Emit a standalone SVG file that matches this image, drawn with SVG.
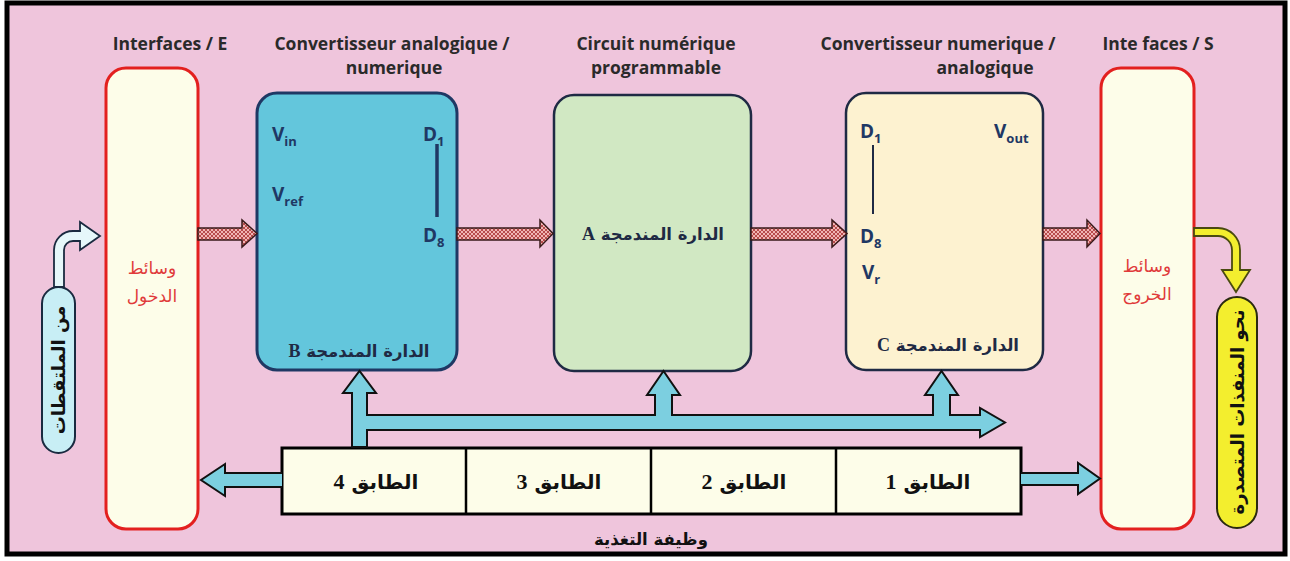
<svg xmlns="http://www.w3.org/2000/svg" width="1290" height="561" viewBox="0 0 1290 561">
<defs>
<pattern id="hatch" width="4" height="4" patternUnits="userSpaceOnUse">
<rect width="4" height="4" fill="#f0b4b4"/>
<path d="M0,4 L4,0 M0,0 L4,4" stroke="#a83030" stroke-width="0.8"/>
</pattern>
<style>
.title{font-family:"Open Sans","Liberation Sans",sans-serif;font-weight:bold;font-size:17.5px;fill:#2a2a2a;text-anchor:middle}
.pin{font-family:"Open Sans","Liberation Sans",sans-serif;font-weight:bold;font-size:19px;fill:#1f3864}
.sub{font-size:13px}
.ar{font-family:"DejaVu Sans",sans-serif;font-weight:bold;text-anchor:middle;direction:rtl;unicode-bidi:embed}
.chip{font-size:16.5px;fill:#1f2a44}
.red{font-size:17px;fill:#e03a3a;font-weight:normal}
.stage{font-size:20px;fill:#111}
.pill{font-size:18px;fill:#111}
.iface{fill:#fdfde9;stroke:#e3201f;stroke-width:3}
.hat{fill:url(#hatch);stroke:#3a1a1a;stroke-width:1.5}
.blue{fill:#7ccfe0;stroke:#111;stroke-width:2;stroke-linejoin:miter}
</style>
</defs>
<rect x="0" y="0" width="1290" height="561" fill="#ffffff"/>
<rect x="7" y="3" width="1278" height="551" fill="#efc5dc" stroke="#000" stroke-width="5"/>

<g id="titles">
<text class="title" x="170" y="50">Interfaces / E</text>
<text class="title" x="392" y="50">Convertisseur analogique /</text>
<text class="title" x="394" y="74">numerique</text>
<text class="title" x="656" y="50">Circuit numérique</text>
<text class="title" x="656" y="74">programmable</text>
<text class="title" x="938" y="50">Convertisseur numerique /</text>
<text class="title" x="985" y="74">analogique</text>
<text class="title" x="1158" y="50">Inte faces / S</text>
</g>

<g id="node-input">
<rect class="iface" x="106" y="68" width="92" height="461" rx="20"/>
<text class="ar red" x="152" y="274">وسائط</text>
<text class="ar red" x="152" y="302">الدخول</text>
</g>

<g id="node-output">
<rect class="iface" x="1101" y="68" width="93" height="461" rx="20"/>
<text class="ar red" x="1147" y="272">وسائط</text>
<text class="ar red" x="1147" y="300">الخروج</text>
</g>

<g id="node-B">
<rect x="257" y="93" width="200" height="277" rx="20" fill="#63c6dc" stroke="#1f3864" stroke-width="3"/>
<text class="pin" x="272" y="141">V<tspan class="sub" dy="5">in</tspan></text>
<text class="pin" x="272" y="201">V<tspan class="sub" dy="5">ref</tspan></text>
<text class="pin" x="423" y="141">D<tspan class="sub" dy="5">1</tspan></text>
<text class="pin" x="423" y="242">D<tspan class="sub" dy="5">8</tspan></text>
<line x1="437" y1="144" x2="437" y2="217" stroke="#1f3864" stroke-width="3.5"/>
<text class="ar chip" x="359" y="357">الدارة المندمجة <tspan font-family="Liberation Serif,serif" font-size="18">B</tspan></text>
</g>

<g id="node-A">
<rect x="554" y="95" width="197" height="276" rx="20" fill="#d1e8c3" stroke="#1f2a44" stroke-width="2.5"/>
<text class="ar chip" x="653" y="240">الدارة المندمجة <tspan font-family="Liberation Serif,serif" font-size="18">A</tspan></text>
</g>

<g id="node-C">
<rect x="846" y="93" width="197" height="277" rx="20" fill="#fdf2d0" stroke="#1f2a44" stroke-width="2.5"/>
<text class="pin" x="860" y="138">D<tspan class="sub" dy="5">1</tspan></text>
<text class="pin" x="860" y="243">D<tspan class="sub" dy="5">8</tspan></text>
<text class="pin" x="862" y="279">V<tspan class="sub" dy="5">r</tspan></text>
<text class="pin" x="994" y="138">V<tspan class="sub" dy="5">out</tspan></text>
<line x1="873" y1="145" x2="873" y2="214" stroke="#1f2a44" stroke-width="2"/>
<text class="ar chip" x="948" y="351">الدارة المندمجة <tspan font-family="Liberation Serif,serif" font-size="18">C</tspan></text>
</g>

<g id="node-sensors">
<rect x="42" y="287" width="33" height="166" rx="16.5" fill="#c8eef5" stroke="#1a2a40" stroke-width="2"/>
<text class="ar pill" transform="translate(65,370) rotate(-90)">من الملتقطات</text>
</g>

<g id="node-actuators">
<rect x="1217" y="297" width="40" height="231" rx="20" fill="#f3ee2e" stroke="#2a2a10" stroke-width="2"/>
<text class="ar pill" transform="translate(1244,412) rotate(-90)">نحو المنفذات المتصدرة</text>
</g>

<g id="node-power">
<rect x="282" y="448" width="739" height="66" fill="#fdfde9" stroke="#000" stroke-width="3"/>
<line x1="466" y1="448" x2="466" y2="514" stroke="#000" stroke-width="2.5"/>
<line x1="651" y1="448" x2="651" y2="514" stroke="#000" stroke-width="2.5"/>
<line x1="836" y1="448" x2="836" y2="514" stroke="#000" stroke-width="2.5"/>
<text class="ar stage" x="376" y="489">الطابق <tspan font-family="Liberation Serif,serif" font-size="22">4</tspan></text>
<text class="ar stage" x="559" y="489">الطابق <tspan font-family="Liberation Serif,serif" font-size="22">3</tspan></text>
<text class="ar stage" x="744" y="489">الطابق <tspan font-family="Liberation Serif,serif" font-size="22">2</tspan></text>
<text class="ar stage" x="928" y="489">الطابق <tspan font-family="Liberation Serif,serif" font-size="22">1</tspan></text>
<text class="ar" font-size="16.5" fill="#111" x="651" y="545">وظيفة التغذية</text>
</g>

<g id="connectors">
<path class="hat" d="M198,228 H242 V220 L257,233.5 L242,247 V240 H198 Z"/>
<path class="hat" d="M457,228 H540 V220 L553,233.5 L540,247 V240 H457 Z"/>
<path class="hat" d="M751,228 H832 V220 L847,233.5 L832,247 V240 H751 Z"/>
<path class="hat" d="M1043,228 H1087 V220 L1100,233.5 L1087,247 V240 H1043 Z"/>
<path d="M54,287 V250 A19,19 0 0 1 73,231 H80 V222 L100,236 L80,250 V241 H73 A9,9 0 0 0 64,250 V287 Z" fill="#e6f7fa" stroke="#1a2a40" stroke-width="1.8"/>
<path d="M1194,228 H1218 A22,22 0 0 1 1240,250 V270 H1250 L1236,292 L1222,270 H1232 V250 A14,14 0 0 0 1218,236 H1194 Z" fill="#f3ee2e" stroke="#4a4a10" stroke-width="1.8"/>
<path class="blue" d="M352,447 V393 H343 L359.5,371 L376,393 H367 V415 H980 V408 L1005,422.5 L980,437 V430 H367 V447 Z"/>
<path class="blue" d="M655,416 V395 H647 L663.5,371 L680,395 H672 V416"/>
<path class="blue" d="M933,416 V395 H925 L941.5,371 L958,395 H950 V416"/>
<path class="blue" d="M282,473 H225 V464 L201,480 L225,496 V487 H282"/>
<path class="blue" d="M1021,473 H1078 V463 L1100,478.5 L1078,494 V485 H1021"/>
</g>
</svg>
